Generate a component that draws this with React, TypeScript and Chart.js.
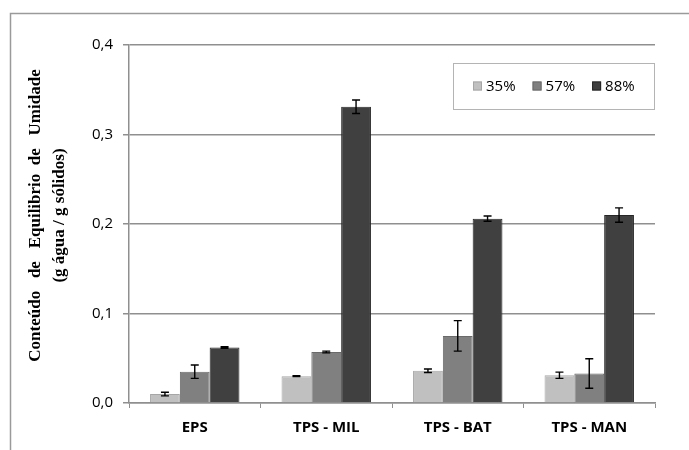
import { useEffect, useRef } from "react";
import { Chart, registerables } from "chart.js";

Chart.register(...registerables);

const categories = ["EPS", "TPS - MIL", "TPS - BAT", "TPS - MAN"];
const seriesLabels = ["35%", "57%", "88%"];
const values35 = [0.010, 0.030, 0.036, 0.031];
const values57 = [0.035, 0.057, 0.075, 0.033];
const values88 = [0.062, 0.331, 0.206, 0.210];
const err35 = [0.002, 0.0005, 0.002, 0.0035];
const err57 = [0.0075, 0.001, 0.017, 0.0165];
const err88 = [0.0008, 0.0075, 0.003, 0.008];
const yTicks = [0, 0.1, 0.2, 0.3, 0.4];

const fills = ["#c0c0c0", "#808080", "#404040"];
const borders = ["#a6a6a6", "#6a6a6a", "#262626"];
const gridColor = "#8f8f8f";

export default function App() {
  const ref = useRef<HTMLCanvasElement>(null);

  useEffect(() => {
    const canvas = ref.current;
    if (!canvas) return;
    const errs = [err35, err57, err88];

    const frame = {
      id: "frame",
      beforeDraw(chart: any) {
        const { ctx, width, height } = chart;
        ctx.save();
        ctx.fillStyle = "#ffffff";
        ctx.fillRect(0, 0, width, height);
        ctx.strokeStyle = "#9a9a9a";
        ctx.lineWidth = 1.5;
        ctx.beginPath();
        ctx.moveTo(10.5, height);
        ctx.lineTo(10.5, 13.5);
        ctx.lineTo(width, 13.5);
        ctx.stroke();
        ctx.restore();
      },
    };

    const errorBars = {
      id: "errorBars",
      afterDatasetsDraw(chart: any) {
        const { ctx } = chart;
        const y = chart.scales.y;
        ctx.save();
        ctx.strokeStyle = "#000000";
        ctx.lineWidth = 1.4;
        chart.data.datasets.forEach((ds: any, i: number) => {
          const meta = chart.getDatasetMeta(i);
          meta.data.forEach((bar: any, j: number) => {
            const v = ds.data[j];
            const e = errs[i][j];
            const yt = y.getPixelForValue(v + e);
            const yb = y.getPixelForValue(v - e);
            const x = bar.x;
            ctx.beginPath();
            ctx.moveTo(x, yt);
            ctx.lineTo(x, yb);
            ctx.moveTo(x - 4, yt);
            ctx.lineTo(x + 4, yt);
            ctx.moveTo(x - 4, yb);
            ctx.lineTo(x + 4, yb);
            ctx.stroke();
          });
        });
        ctx.restore();
      },
    };

    const boxLegend = {
      id: "boxLegend",
      afterDraw(chart: any) {
        const { ctx, chartArea } = chart;
        const right = chartArea.right - 1;
        const left = right - 201;
        const top = chartArea.top + 18;
        const h = 46;
        ctx.save();
        ctx.fillStyle = "#ffffff";
        ctx.fillRect(left, top, right - left, h);
        ctx.strokeStyle = "#b4b4b4";
        ctx.lineWidth = 1;
        ctx.strokeRect(left + 0.5, top + 0.5, right - left, h);
        ctx.font = "15px 'Open Sans'";
        ctx.textBaseline = "middle";
        ctx.textAlign = "left";
        const cy = top + h / 2;
        let x = left + 20;
        seriesLabels.forEach((lab, i) => {
          ctx.fillStyle = fills[i];
          ctx.fillRect(x, cy - 4.5, 9, 9);
          ctx.strokeStyle = borders[i];
          ctx.strokeRect(x + 0.5, cy - 4, 8, 8);
          ctx.fillStyle = "#000000";
          ctx.fillText(lab, x + 13, cy + 1);
          x += 13 + ctx.measureText(lab).width + 17;
        });
        ctx.restore();
      },
    };

    const chart = new Chart(canvas, {
      type: "bar",
      data: {
        labels: categories,
        datasets: [values35, values57, values88].map((vals, i) => ({
          label: seriesLabels[i],
          data: vals,
          backgroundColor: fills[i],
          borderColor: borders[i],
          borderWidth: 1,
          barPercentage: 1,
          categoryPercentage: 0.68,
        })),
      },
      options: {
        responsive: false,
        animation: false,
        devicePixelRatio: 1,
        layout: { padding: { top: 45, right: 34, left: 0, bottom: 0 } },
        plugins: {
          legend: { display: false },
          tooltip: { enabled: false },
        },
        scales: {
          x: {
            grid: {
              display: true,
              drawOnChartArea: false,
              drawTicks: true,
              tickLength: 5,
              color: gridColor,
              offset: true,
            },
            border: { display: true, color: gridColor, width: 1.5 },
            ticks: {
              color: "#000000",
              padding: 11,
              font: { family: "'Open Sans'", size: 15, weight: "bold" },
              maxRotation: 0,
            },
            afterFit(scale: any) {
              scale.height = 47;
            },
          },
          y: {
            min: 0,
            max: 0.4,
            afterBuildTicks(scale: any) {
              scale.ticks = yTicks.map((v) => ({ value: v }));
            },
            grid: {
              color: gridColor,
              lineWidth: 1.5,
              drawTicks: true,
              tickLength: 6,
            },
            border: { display: true, color: gridColor, width: 1.5 },
            ticks: {
              color: "#000000",
              padding: 10,
              font: { family: "'Open Sans'", size: 15 },
              callback: (v: any) => Number(v).toFixed(1).replace(".", ","),
            },
            title: {
              display: true,
              text: [
                "    Conteúdo   de   Equilibrio  de   Umidade",
                "    (g água / g sólidos)",
              ],
              color: "#000000",
              font: { family: "'Liberation Serif'", size: 17, weight: "bold", lineHeight: 1.4 },
              padding: { top: 24, bottom: 0 },
            },
            afterFit(scale: any) {
              scale.width = 129;
            },
          },
        },
      },
      plugins: [frame, errorBars, boxLegend],
    } as any);

    return () => chart.destroy();
  }, []);

  return (
    <div style={{ position: "absolute", left: 0, top: 0, width: 689, height: 450, background: "#fff" }}>
      <canvas ref={ref} width={689} height={450} style={{ display: "block", width: 689, height: 450 }} />
    </div>
  );
}
